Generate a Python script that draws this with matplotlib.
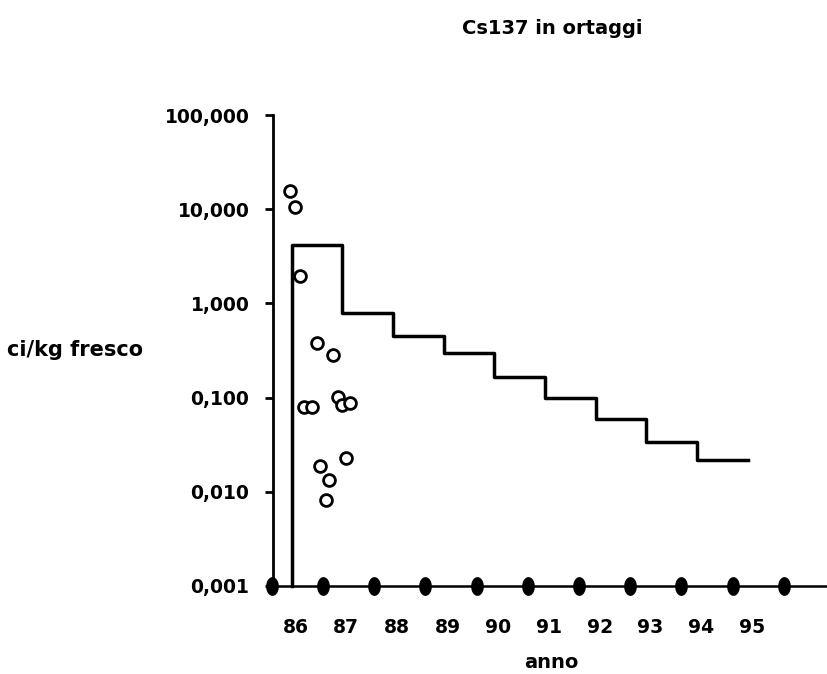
import numpy as np
import matplotlib
matplotlib.use("Agg")
import matplotlib.pyplot as plt

# step curve: yearly levels (Ci/kg) from 86 to 95
step_edges = [86, 87, 88, 89, 90, 91, 92, 93, 94, 95]
step_values = [4.2, 0.8, 0.45, 0.294, 0.166, 0.099, 0.059, 0.034, 0.022]

# measured points (open circles)
pt_x = [85.98, 86.07, 86.17, 86.50, 86.81, 86.25, 86.40, 86.92, 86.99, 87.15,
        87.07, 86.56, 86.73, 86.69]
pt_y = [15.5, 10.6, 1.97, 0.376, 0.28, 0.080, 0.079, 0.101, 0.084, 0.087,
        0.0226, 0.019, 0.0132, 0.0082]

year_labels = ["86", "87", "88", "89", "90", "91", "92", "93", "94", "95"]
ytick_vals = [0.001, 0.01, 0.1, 1, 10, 100]
ytick_labels = ["0,001", "0,010", "0,100", "1,000", "10,000", "100,000"]
axis_dots = [85.61 + 1.01 * k for k in range(11)]

plt.rcParams["font.family"] = ["DejaVu Sans"]
plt.rcParams["font.weight"] = "bold"

W, H = 827, 674
fig = plt.figure(figsize=(W / 100, H / 100), dpi=100)
ax = fig.add_axes([273 / W, 1 - 586 / H, (W - 273) / W, (586 - 115) / H])

ymin = 0.001
ax.set_yscale("log")
ax.set_ylim(ymin, 100)
ax.set_xlim(85.635, 96.56)

# step line, rising from the axis at 86
sx = [step_edges[0]] + step_edges
sy = [ymin] + step_values + [step_values[-1]]
ax.step(sx, sy, where="post", color="black", lw=2.5, clip_on=False)

ax.plot(pt_x, pt_y, "o", ms=8.5, mfc="white", mec="black", mew=2,
        linestyle="none", clip_on=False)

# x axis with oval dots
t = np.linspace(0, 2 * np.pi, 40)
oval = np.column_stack([0.65 * np.cos(t), np.sin(t)])
ax.plot(axis_dots, [ymin] * len(axis_dots), linestyle="none", marker=oval,
        ms=12.5, color="black", clip_on=False, zorder=5)

for s in ["top", "right"]:
    ax.spines[s].set_visible(False)
ax.spines["left"].set_linewidth(2)
ax.spines["bottom"].set_linewidth(1.8)

ax.set_yticks(ytick_vals)
ax.set_yticklabels(ytick_labels)
ax.yaxis.set_minor_locator(matplotlib.ticker.NullLocator())
ax.tick_params(axis="y", length=6, width=2, pad=11, labelsize=13.5)

ax.set_xticks([e + 0.08 for e in step_edges])
ax.set_xticklabels(year_labels)
ax.tick_params(axis="x", length=0, pad=23, labelsize=13.5)

fig.text(552 / W, 1 - 28 / H, "Cs137 in ortaggi", ha="center", va="center",
         fontsize=14)
fig.text(143 / W, 1 - 350 / H, "ci/kg fresco", ha="right", va="center",
         fontsize=15)
fig.text(551 / W, 1 - 663 / H, "anno", ha="center", va="center", fontsize=14)

fig.savefig("out.png", dpi=100, facecolor="white")
